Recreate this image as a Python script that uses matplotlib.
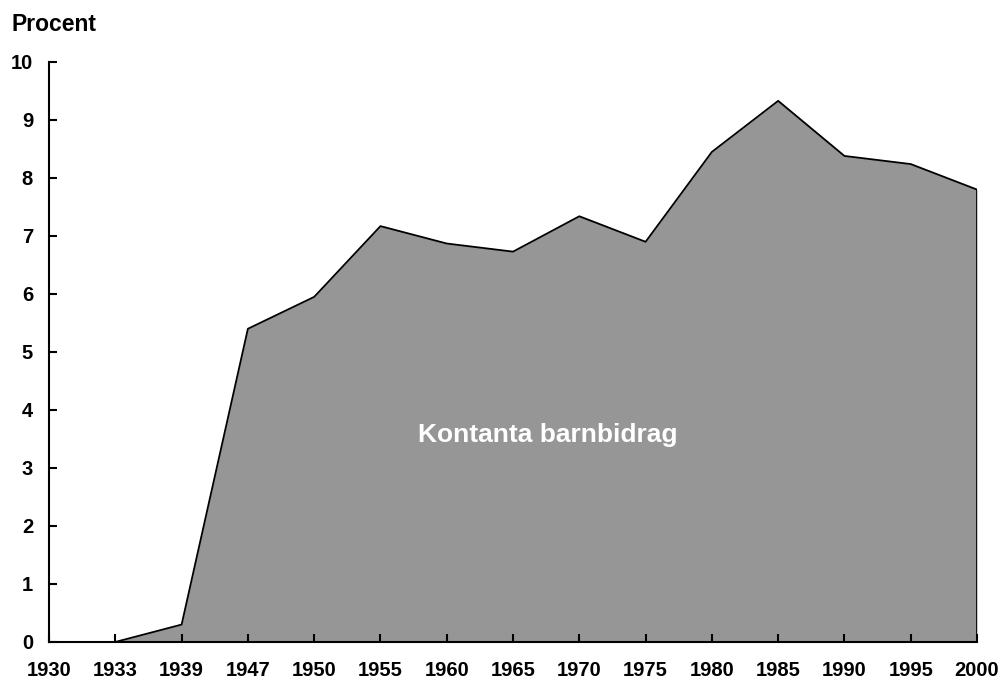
import matplotlib
matplotlib.use("Agg")
import matplotlib.pyplot as plt

years = ["1930", "1933", "1939", "1947", "1950", "1955", "1960", "1965",
         "1970", "1975", "1980", "1985", "1990", "1995", "2000"]
share = [0.0, 0.0, 0.3, 5.4, 5.95, 7.17, 6.87, 6.73,
         7.34, 6.9, 8.45, 9.33, 8.38, 8.24, 7.8]
y_ticks = [0, 1, 2, 3, 4, 5, 6, 7, 8, 9, 10]

plt.rcParams["font.family"] = ["Liberation Sans", "DejaVu Sans"]
plt.rcParams["font.weight"] = "bold"

fig = plt.figure(figsize=(10.03, 6.82), dpi=100)
ax = fig.add_axes([0.0489, 0.0587, 0.9252, 0.8504])

x = list(range(len(years)))
ax.fill_between(x, share, 0, color="#969696", linewidth=0)
# outline starts where the series leaves zero, and closes down at the end
ax.plot(x[1:] + [x[-1]], share[1:] + [0], color="black", lw=1.3)

ax.set_xlim(0, len(years) - 1)
ax.set_ylim(0, 10)
ax.set_xticks(x)
ax.set_xticklabels(years)
ax.set_yticks(y_ticks)

for side in ("top", "right"):
    ax.spines[side].set_visible(False)
for side in ("left", "bottom"):
    ax.spines[side].set_linewidth(1.5)
ax.tick_params(direction="in", length=6, width=1.5, labelsize=14.5)
ax.tick_params(axis="x", pad=14)
ax.tick_params(axis="y", pad=11.5)

ax.text(7.53, 3.56, "Kontanta barnbidrag", color="white", fontsize=19,
        fontweight="bold", ha="center", va="center")
fig.text(0.011, 0.964, "Procent", fontsize=16.5, fontweight="bold",
         ha="left", va="center")

fig.savefig("out.png", dpi=100)
